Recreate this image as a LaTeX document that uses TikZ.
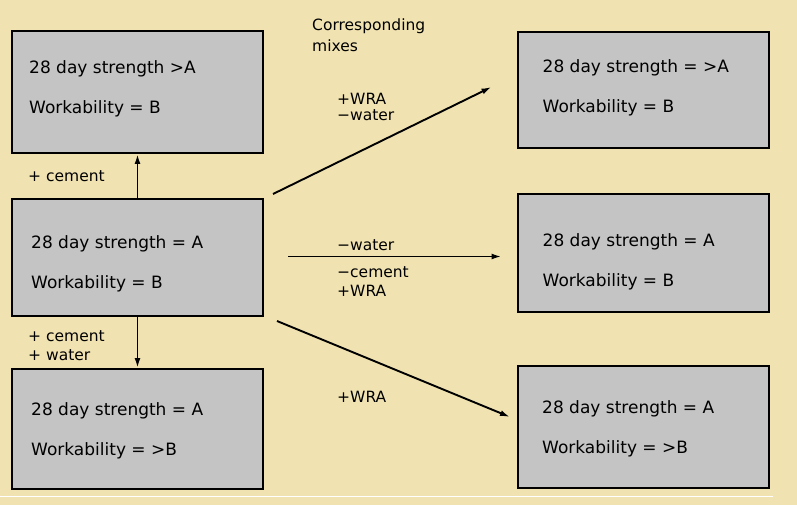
\documentclass[tikz,border=0pt]{standalone}
\usepackage{fontspec}
\setmainfont{DejaVu Sans}
\usepackage{tikz}
\usetikzlibrary{calc, arrows.meta}
\usepackage{xcolor}
\definecolor{crema}{HTML}{F0E3B1}
\definecolor{grigio}{HTML}{C4C4C4}
\tikzset{
  mixbox/.style = {draw, fill=grigio, line width=2pt, minimum width=251, inner sep=0pt},
  mixtext/.style = {anchor=base west, align=left, inner sep=0pt, font=\fontsize{17}{40}\selectfont},
  etich/.style = {anchor=base west, align=left, inner sep=0pt, font=\fontsize{15.5}{19}\selectfont},
  freccia/.style = {-{Latex[length=10pt,width=6pt]}, line width=1.9pt}
}
\begin{document}
\begin{tikzpicture}[x=1pt, y=-1pt]
    % Sfondo
    \useasboundingbox (0,0) rectangle (797,505);
    \fill[crema] (0,0) rectangle (797,505);
    \draw[white, line width=1pt] (0,496) -- (773,496);
    % Miscele
    \node[mixbox, minimum height=122] (pluscem) at (137.5,92) {};
    \node[mixbox, minimum height=117] (base) at (137.5,257.5) {};
    \node[mixbox, minimum height=120] (pluscemwat) at (137.5,429) {};
    \node[mixbox, minimum height=116] (wrawat) at (643,90) {};
    \node[mixbox, minimum height=118] (wrawatcem) at (643,253) {};
    \node[mixbox, minimum height=122] (wra) at (643.5,427) {};
    % Testi (base = ultima riga)
    \node[mixtext] (pluscem-t) at ($(pluscem.north west)+(18,84)$) {28 day strength >A\\Workability = B};
    \node[mixtext] (base-t) at ($(base.north west)+(20,90)$) {28 day strength = A\\Workability = B};
    \node[mixtext] (pluscemwat-t) at ($(pluscemwat.north west)+(20,87)$) {28 day strength = A\\Workability = >B};
    \node[mixtext] (wrawat-t) at ($(wrawat.north west)+(26,82)$) {28 day strength = >A\\Workability = B};
    \node[mixtext] (wrawatcem-t) at ($(wrawatcem.north west)+(26,93)$) {28 day strength = A\\Workability = B};
    \node[mixtext] (wra-t) at ($(wra.north west)+(25,88)$) {28 day strength = A\\Workability = >B};
    % Frecce
    \draw[freccia] (base.north) -- (pluscem.south);
    \draw[freccia] (base.south) -- (pluscemwat.north);
    \coordinate (a0) at ($(base.north east)+(9,-4)$);
    \coordinate (a1) at ($(wrawat.west)+(-25,-3)$);
    \draw[freccia] (a0) -- (a1);
    \coordinate (b0) at ($(base.east)+(24,-1)$);
    \coordinate (b1) at ($(b0 -| wrawatcem.west)+(-15,0)$);
    \draw[freccia] (b0) -- (b1);
    \coordinate (c0) at ($(base.south east)+(13,4)$);
    \coordinate (c1) at ($(wra.west)+(-7,-10)$);
    \draw[freccia] (c0) -- (c1);
    % Etichette
    \node[etich, font=\fontsize{15.5}{21}\selectfont] (corr) at (312,52) {Corresponding\\mixes};
    \node[etich, font=\fontsize{15.5}{16}\selectfont] (a-lab) at (337,121) {+WRA\\−water};
    \node[etich] (up-lab) at (28,182) {+ cement};
    \node[etich] (b-lab1) at (337,250) {−water};
    \node[etich] (b-lab2) at (337,296) {−cement\\+WRA};
    \node[etich] (down-lab) at (28,360) {+ cement\\+ water};
    \node[etich] (c-lab) at (337,402) {+WRA};
\end{tikzpicture}
\end{document}
